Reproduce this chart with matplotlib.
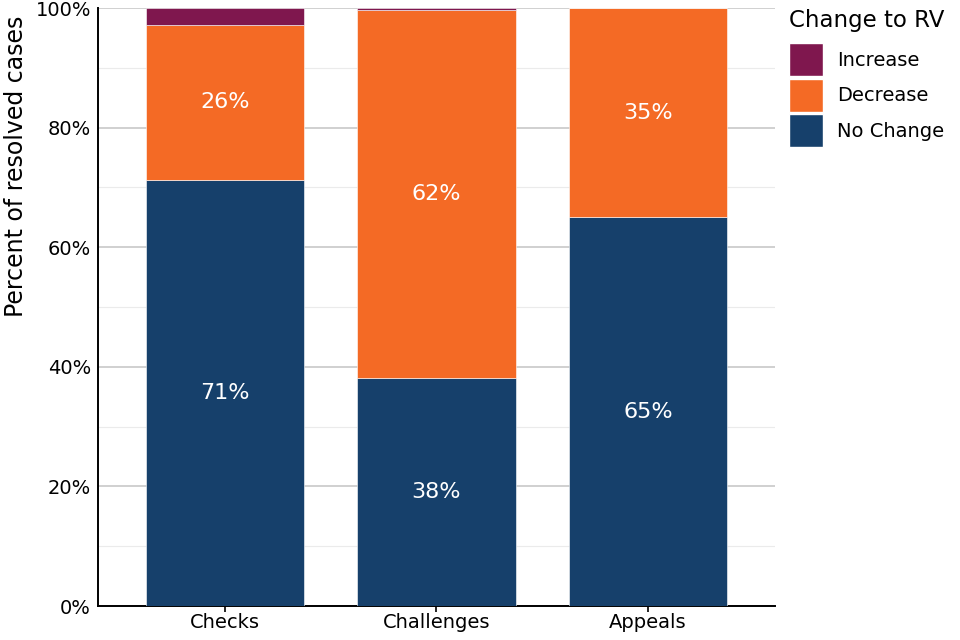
import numpy as np
import matplotlib.pyplot as plt
from matplotlib.ticker import MultipleLocator, PercentFormatter
from matplotlib.patches import Patch

categories = ['Checks', 'Challenges', 'Appeals']
no_change = [71.2, 38.1, 65.0]
decrease = [26.0, 61.6, 35.0]
increase = [2.8, 0.3, 0.0]
labels_nc = ['71%', '38%', '65%']
labels_dec = ['26%', '62%', '35%']

c_inc = '#7f174e'
c_dec = '#f46a25'
c_nc = '#16406b'

fig = plt.figure(figsize=(9.6, 6.4), dpi=100)
ax = fig.add_axes([0.102, 0.053, 0.705, 0.9345])

x = np.arange(len(categories))
w = 0.75
nc = np.array(no_change)
dec = np.array(decrease)
inc = np.array(increase)

ax.bar(x, nc, w, color=c_nc, edgecolor='white', linewidth=0.4, zorder=3)
ax.bar(x, dec, w, bottom=nc, color=c_dec, edgecolor='white', linewidth=0.4, zorder=3)
ax.bar(x, inc, w, bottom=nc + dec, color=c_inc, edgecolor='white', linewidth=0.4, zorder=3)

# labels in the middle of the segments
for i in range(len(categories)):
    ax.text(x[i], nc[i] / 2, labels_nc[i], ha='center', va='center',
            color='white', fontsize=16, zorder=4)
    ax.text(x[i], nc[i] + dec[i] / 2, labels_dec[i], ha='center', va='center',
            color='white', fontsize=16, zorder=4)

ax.set_xlim(-0.6, 2.6)
ax.set_ylim(0, 100)
ax.set_xticks(x)
ax.set_xticklabels(categories, fontsize=14)
ax.yaxis.set_major_locator(MultipleLocator(20))
ax.yaxis.set_minor_locator(MultipleLocator(10))
ax.yaxis.set_major_formatter(PercentFormatter(decimals=0))
ax.tick_params(axis='y', which='both', length=0, labelsize=14, pad=5)
ax.tick_params(axis='x', length=4, width=1.2, labelsize=14, pad=1)
ax.grid(axis='y', which='major', color='#c8c8c8', linewidth=1.2, zorder=0)
ax.grid(axis='y', which='minor', color='#ebebeb', linewidth=0.8, zorder=0)
ax.set_axisbelow(True)
for s in ['top', 'right']:
    ax.spines[s].set_visible(False)
ax.spines['left'].set_linewidth(1.4)
ax.spines['bottom'].set_linewidth(1.4)
ax.set_ylabel('Percent of resolved cases', fontsize=17)
ax.yaxis.set_label_coords(-0.103, 0.736)

# legend title drawn separately for spacing
fig.text(789 / 960, 1 - 21 / 640, 'Change to RV', fontsize=16.5,
         ha='left', va='center')
handles = [Patch(facecolor=c_inc, edgecolor='white'),
           Patch(facecolor=c_dec, edgecolor='white'),
           Patch(facecolor=c_nc, edgecolor='white')]
leg = fig.legend(handles, ['Increase', 'Decrease', 'No Change'],
                 loc='upper left',
                 bbox_to_anchor=(789 / 960, 1 - 43 / 640), frameon=False,
                 borderpad=0, borderaxespad=0,
                 fontsize=14, handlelength=1.75,
                 handleheight=2.23, handletextpad=0.72, labelspacing=0.14)

fig.savefig('out.png', dpi=100)
